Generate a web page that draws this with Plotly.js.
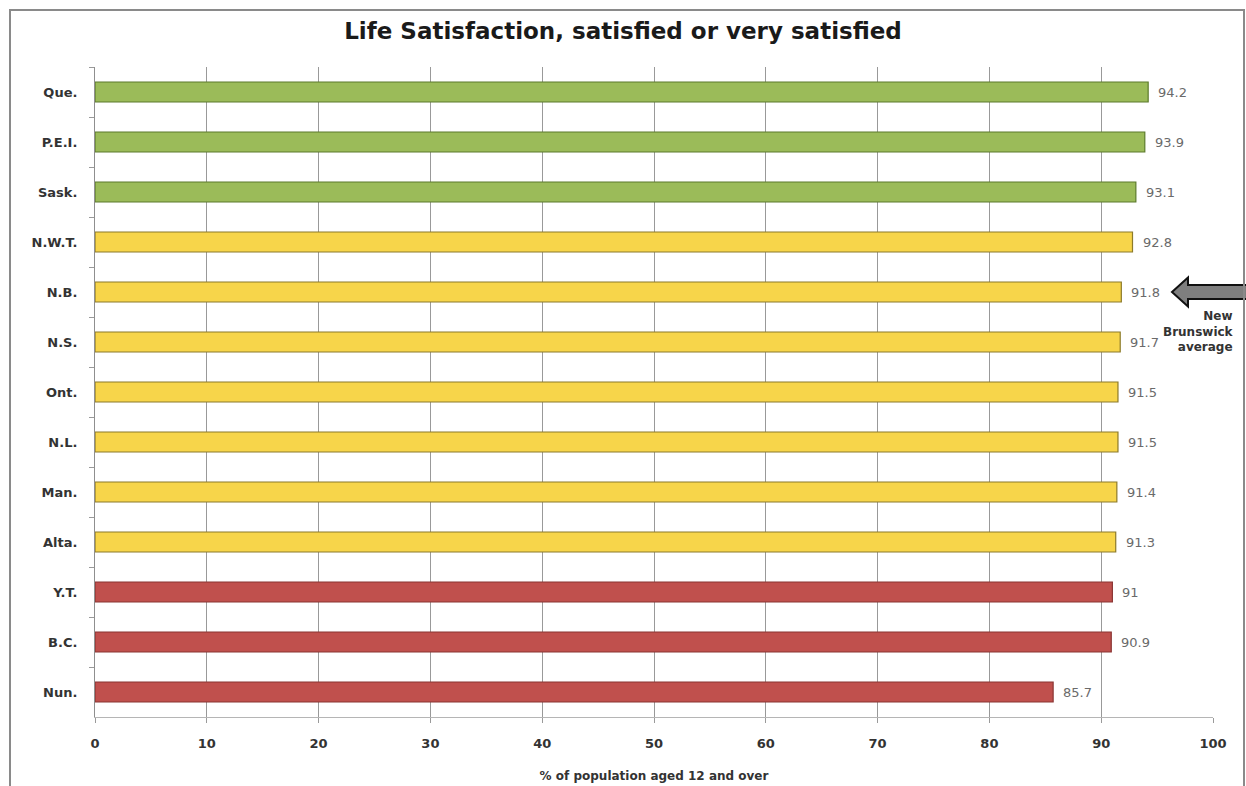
<!DOCTYPE html>
<html>
<head>
<meta charset="utf-8">
<script src="https://cdn.plot.ly/plotly-3.0.1.min.js"></script>
<style>
  html, body { margin: 0; padding: 0; background: #fff; }
  #wrap { position: relative; width: 1246px; height: 786px; overflow: hidden; }
  #chart { position: absolute; left: 0; top: 0; width: 1246px; height: 786px; }
  #frame { position: absolute; left: 9px; top: 9px; width: 1232px; height: 800px;
           border: 2px solid #8a8a8a; pointer-events: none; }
</style>
</head>
<body>
<div id="wrap">
  <div id="chart"></div>
  <div id="frame"></div>
</div>
<script>
// Provinces and territories, highest to lowest
var provinces = ['Que.', 'P.E.I.', 'Sask.', 'N.W.T.', 'N.B.', 'N.S.', 'Ont.', 'N.L.', 'Man.', 'Alta.', 'Y.T.', 'B.C.', 'Nun.'];
var satisfied = [94.2, 93.9, 93.1, 92.8, 91.8, 91.7, 91.5, 91.5, 91.4, 91.3, 91, 90.9, 85.7];
var band = ['above', 'above', 'above', 'same', 'same', 'same', 'same', 'same', 'same', 'same', 'below', 'below', 'below'];
var xTicks = [0, 10, 20, 30, 40, 50, 60, 70, 80, 90, 100];

var fillFor = { above: '#9BBB59', same: '#F7D54A', below: '#C0504D' };
var edgeFor = { above: '#5C7A2C', same: '#8C7A2A', below: '#8A3533' };

var LABEL_FONT = '"DejaVu Sans", sans-serif';

var trace = {
  type: 'bar',
  orientation: 'h',
  x: satisfied,
  y: provinces,
  width: 0.4,
  marker: {
    color: band.map(function (b) { return fillFor[b]; }),
    line: { color: band.map(function (b) { return edgeFor[b]; }), width: 1.2 }
  },
  hoverinfo: 'x+y'
};

// value labels just past the end of each bar
var valueLabels = satisfied.map(function (v, i) {
  return {
    xref: 'x', yref: 'y',
    x: v, y: provinces[i],
    xanchor: 'left', yanchor: 'middle',
    xshift: 8,
    text: String(v),
    showarrow: false,
    font: { family: LABEL_FONT, size: 13, color: '#6a6a6a' }
  };
});

// block arrow pointing at the New Brunswick bar (x in paper units, y in category units)
var nbIdx = provinces.indexOf('N.B.');
var tipX = (1172 - 95) / 1118, baseX = (1188 - 95) / 1118, endX = (1250 - 95) / 1118;
var arrowPath = 'M ' + tipX + ',' + nbIdx +
  ' L ' + baseX + ',' + (nbIdx - 0.29) +
  ' L ' + baseX + ',' + (nbIdx - 0.14) +
  ' L ' + endX + ',' + (nbIdx - 0.14) +
  ' L ' + endX + ',' + (nbIdx + 0.14) +
  ' L ' + baseX + ',' + (nbIdx + 0.14) +
  ' L ' + baseX + ',' + (nbIdx + 0.29) + ' Z';

var layout = {
  width: 1246,
  height: 786,
  margin: { l: 95, r: 33, t: 67, b: 69 },
  paper_bgcolor: '#ffffff',
  plot_bgcolor: '#ffffff',
  showlegend: false,
  title: {
    text: '<b>Life Satisfaction, satisfied or very satisfied</b>',
    font: { family: LABEL_FONT, size: 23, color: '#1a1a1a' },
    x: 0.5, xanchor: 'center', y: 0.96, yanchor: 'middle'
  },
  font: { family: LABEL_FONT },
  xaxis: {
    range: [0, 100],
    tickvals: xTicks,
    ticktext: xTicks.map(String),
    showgrid: true,
    gridcolor: '#999999',
    gridwidth: 1,
    zeroline: false,
    showline: true,
    linecolor: '#b5b5b5',
    linewidth: 1,
    ticks: 'outside',
    ticklen: 5,
    tickcolor: '#9a9a9a',
    ticklabelstandoff: 9,
    tickfont: { family: LABEL_FONT, size: 13, color: '#333333', weight: 'bold' },
    title: {
      text: '<b>% of population aged 12 and over</b>',
      font: { family: LABEL_FONT, size: 12, color: '#333333' },
      standoff: 22
    },
    fixedrange: true
  },
  yaxis: {
    type: 'category',
    autorange: 'reversed',
    showgrid: false,
    zeroline: false,
    showline: true,
    linecolor: '#8f8f8f',
    linewidth: 1,
    ticks: 'outside',
    tickson: 'boundaries',
    ticklen: 5,
    tickcolor: '#9a9a9a',
    ticklabelstandoff: 14,
    tickfont: { family: LABEL_FONT, size: 13, color: '#333333', weight: 'bold' },
    fixedrange: true
  },
  shapes: [
    {
      type: 'path',
      xref: 'paper', yref: 'y',
      path: arrowPath,
      fillcolor: '#7f7f7f',
      line: { color: '#111111', width: 2 },
      layer: 'above'
    }
  ],
  annotations: valueLabels.concat([
    {
      xref: 'paper', yref: 'y',
      x: (1236 - 95) / 1118, y: nbIdx + 0.78,
      xanchor: 'right', yanchor: 'middle', align: 'right',
      text: '<b>New<br>Brunswick<br>average</b>',
      showarrow: false,
      font: { family: LABEL_FONT, size: 12, color: '#333333' }
    }
  ])
};

Plotly.newPlot('chart', [trace], layout, { displayModeBar: false, staticPlot: true });
</script>
</body>
</html>
